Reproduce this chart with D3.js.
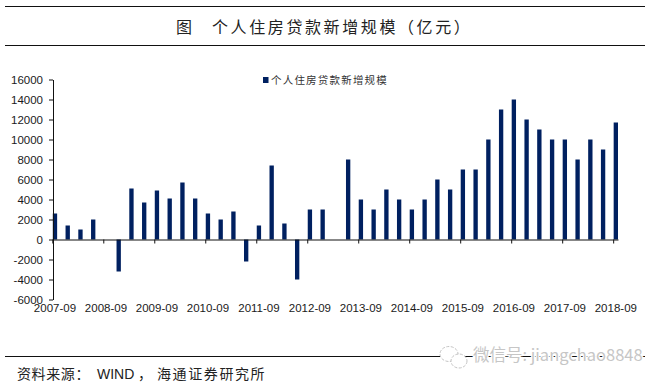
<!DOCTYPE html>
<html>
<head>
<meta charset="utf-8">
<script src="https://cdn.jsdelivr.net/npm/d3@7"></script>
<style>
  html, body { margin: 0; padding: 0; background: #fff; }
  svg { display: block; }
  .axis text { font-family: "Liberation Sans", Arial, sans-serif; font-size: 11.5px; fill: #1a1a1a; }
  .cjk { font-family: "Noto Sans CJK SC", sans-serif; }
</style>
</head>
<body>
<div id="chart"></div>
<script>
const WIDTH = 657
const HEIGHT = 390

const seriesName = '个人住房贷款新增规模'
const quarters = [
  '2007-09', '2007-12', '2008-03', '2008-06', '2008-09', '2008-12', '2009-03', '2009-06', '2009-09',
  '2009-12', '2010-03', '2010-06', '2010-09', '2010-12', '2011-03', '2011-06', '2011-09', '2011-12',
  '2012-03', '2012-06', '2012-09', '2012-12', '2013-03', '2013-06', '2013-09', '2013-12', '2014-03',
  '2014-06', '2014-09', '2014-12', '2015-03', '2015-06', '2015-09', '2015-12', '2016-03', '2016-06',
  '2016-09', '2016-12', '2017-03', '2017-06', '2017-09', '2017-12', '2018-03', '2018-06', '2018-09',
]
// null = no bar in the picture
const values = [
  2600, 1400, 1000, 2000, null, -3200, 5100, 3700, 4900,
  4100, 5700, 4100, 2600, 2000, 2800, -2200, 1400, 7400,
  1600, -4000, 3000, 3000, null, 8000, 4000, 3000, 5000,
  4000, 3000, 4000, 6000, 5000, 7000, 7000, 10000, 13000,
  14000, 12000, 11000, 10000, 10000, 8000, 10000, 9000, 11700,
]
const xTickLabels = quarters.filter(q => q.endsWith('-09'))
const yTickValues = [-6000, -4000, -2000, 0, 2000, 4000, 6000, 8000, 10000, 12000, 14000, 16000]

const svg = d3.select('#chart').append('svg').attr('width', WIDTH).attr('height', HEIGHT)

const x = d3.scaleBand().domain(quarters).range([52.8, 618]).paddingInner(0.66).paddingOuter(0)
const y = d3.scaleLinear().domain([-6000, 16000]).range([299.5, 79.5])

// ── header and footer rules ─────────────────────────────
svg.selectAll('.rule').data([6.5, 45.5, 356.5]).join('line')
  .attr('class', 'rule')
  .attr('x1', 5).attr('x2', 645)
  .attr('y1', d => d).attr('y2', d => d)
  .attr('stroke', '#111').attr('stroke-width', 1)

svg.append('text').attr('class', 'cjk')
  .attr('x', 176).attr('y', 33)
  .style('font-size', '16px').style('letter-spacing', '2.6px').attr('fill', '#222')
  .attr('xml:space', 'preserve')
  .text('图')
svg.append('text').attr('class', 'cjk')
  .attr('x', 212).attr('y', 33)
  .style('font-size', '16px').style('letter-spacing', '2.6px').attr('fill', '#222')
  .text(seriesName + '（亿元）')

// ── bars ────────────────────────────────────────────────
svg.append('g').selectAll('rect')
  .data(quarters.map((q, i) => ({ q, v: values[i] })).filter(d => d.v !== null))
  .join('rect')
  .attr('x', d => x(d.q))
  .attr('y', d => y(Math.max(d.v, 0)))
  .attr('width', x.bandwidth())
  .attr('height', d => Math.abs(y(d.v) - y(0)))
  .attr('fill', '#002060')

// ── axes ────────────────────────────────────────────────
const gY = svg.append('g').attr('class', 'axis').attr('transform', 'translate(53,0)')
  .call(d3.axisLeft(y).tickValues(yTickValues).tickFormat(d3.format('d')).tickSize(4).tickSizeOuter(0).tickPadding(6))
gY.selectAll('path, line').attr('stroke', '#111')
gY.selectAll('text').text(d => String(d))

const gX = svg.append('g').attr('class', 'axis').attr('transform', `translate(0,${y(0)})`)
  .call(d3.axisBottom(x).tickValues(xTickLabels).tickSize(4).tickSizeOuter(0))
gX.selectAll('path, line').attr('stroke', '#111')
// ticks sit on the band edge, labels stay centred and drop below the plot
gX.selectAll('.tick line').attr('x1', -x.bandwidth() / 2).attr('x2', -x.bandwidth() / 2)
gX.selectAll('.tick text').attr('y', 64).attr('dy', '0.71em')

// ── legend ──────────────────────────────────────────────
svg.append('rect').attr('x', 263).attr('y', 77).attr('width', 5.5).attr('height', 6).attr('fill', '#002060')
svg.append('text').attr('class', 'cjk')
  .attr('x', 271).attr('y', 84)
  .style('font-size', '10.5px').style('letter-spacing', '1.2px').attr('fill', '#333')
  .text(seriesName)

// ── source ──────────────────────────────────────────────
const source = svg.append('text').attr('class', 'cjk').attr('y', 379)
  .style('font-size', '14px').attr('fill', '#222')
source.append('tspan').attr('x', 17).style('letter-spacing', '0.6px').text('资料来源：')
source.append('tspan').attr('x', 97).style('font-family', '"Liberation Sans", Arial, sans-serif').text('WIND')
source.append('tspan').attr('x', 138).text('，')
source.append('tspan').attr('x', 157).style('letter-spacing', '1.6px').text('海通证券研究所')

// ── watermark ───────────────────────────────────────────
const mark = svg.append('g').attr('fill', '#fff').attr('stroke', '#c4c4c4').attr('stroke-width', 1)
mark.append('ellipse').attr('cx', 449).attr('cy', 354).attr('rx', 9).attr('ry', 7.5).attr('stroke-dasharray', '3 1.5')
mark.append('ellipse').attr('cx', 459).attr('cy', 361).attr('rx', 8).attr('ry', 7).attr('stroke-dasharray', '3 1.5')

svg.append('text').attr('x', 473).attr('y', 361)
  .style('font-family', '"Noto Sans CJK SC", sans-serif').style('font-size', '16.5px')
  .attr('fill', '#c6c6c6').attr('stroke', '#fff').attr('stroke-width', 2.5)
  .attr('paint-order', 'stroke')
  .text('微信号: jiangchao8848')
</script>
</body>
</html>
